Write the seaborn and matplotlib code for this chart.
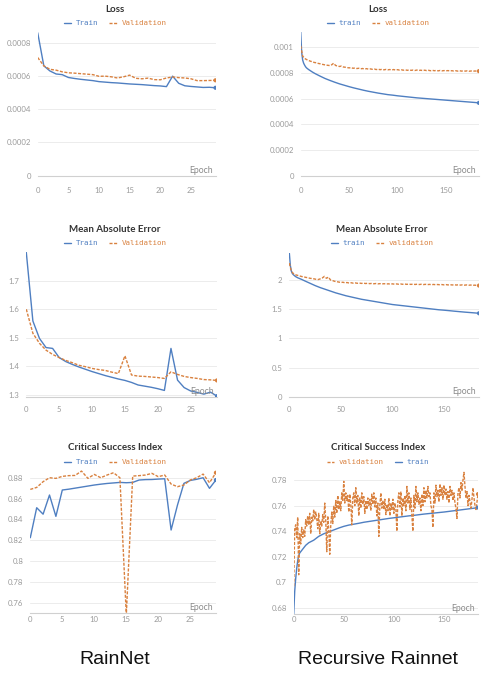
import matplotlib
matplotlib.use('Agg')
import matplotlib.pyplot as plt
import matplotlib.transforms as mtransforms
import seaborn as sns
import numpy as np
import pandas as pd

# ---------------- data ----------------
rn_epochs = list(range(30))
rn_loss_train = [0.000860, 0.000661, 0.000630, 0.000612, 0.000608, 0.000591, 0.000585, 0.000580,
                 0.000576, 0.000572, 0.000566, 0.000563, 0.000560, 0.000558, 0.000555, 0.000552,
                 0.000550, 0.000548, 0.000545, 0.000542, 0.000540, 0.000536, 0.000599, 0.000556,
                 0.000541, 0.000537, 0.000534, 0.000531, 0.000532, 0.000529]
rn_loss_val = [0.000711, 0.000661, 0.000640, 0.000635, 0.000625, 0.000619, 0.000617, 0.000614,
               0.000611, 0.000608, 0.000598, 0.000599, 0.000595, 0.000588, 0.000595, 0.000605,
               0.000586, 0.000583, 0.000587, 0.000578, 0.000577, 0.000588, 0.000594, 0.000590,
               0.000588, 0.000583, 0.000572, 0.000572, 0.000573, 0.000574]
rn_mae_train = [1.799, 1.559, 1.498, 1.466, 1.463, 1.431, 1.417, 1.407, 1.398, 1.390,
                1.382, 1.375, 1.368, 1.362, 1.356, 1.351, 1.344, 1.335, 1.331, 1.327,
                1.322, 1.316, 1.463, 1.352, 1.326, 1.314, 1.309, 1.303, 1.310, 1.296]
rn_mae_val = [1.600, 1.516, 1.481, 1.457, 1.442, 1.431, 1.421, 1.413, 1.404, 1.399,
              1.393, 1.389, 1.386, 1.380, 1.375, 1.437, 1.370, 1.366, 1.365, 1.363,
              1.361, 1.358, 1.381, 1.372, 1.365, 1.361, 1.358, 1.354, 1.353, 1.351]
rn_csi_train = [0.8224, 0.8512, 0.8450, 0.8634, 0.8429, 0.8682, 0.8690, 0.8700, 0.8710, 0.8720,
                0.8730, 0.8738, 0.8745, 0.8750, 0.8755, 0.8752, 0.8755, 0.8778, 0.8782, 0.8783,
                0.8787, 0.8790, 0.8298, 0.8538, 0.8746, 0.8774, 0.8785, 0.8800, 0.8698, 0.8778]
rn_csi_val = [0.8688, 0.8707, 0.8762, 0.8800, 0.8794, 0.8813, 0.8820, 0.8822, 0.8864, 0.8794,
              0.8832, 0.8800, 0.8826, 0.8848, 0.8800, 0.7480, 0.8816, 0.8820, 0.8826, 0.8842,
              0.8810, 0.8826, 0.8739, 0.8714, 0.8730, 0.8778, 0.8800, 0.8835, 0.8752, 0.8848]

rec_train_epochs = [0, 1, 2, 3, 4, 5, 6, 8, 10, 12, 15, 20, 25, 30, 35, 40, 45, 50, 55, 60,
                    65, 70, 75, 80, 85, 90, 95, 100, 105, 110, 115, 120, 125, 130, 135, 140,
                    145, 150, 155, 160, 165, 170, 175, 180, 184]
rec_loss_train = [0.001120, 0.000960, 0.000900, 0.000875, 0.000860, 0.000847, 0.000838, 0.000826,
                  0.000816, 0.000806, 0.000793, 0.000774, 0.000756, 0.000741, 0.000727, 0.000714,
                  0.000703, 0.000692, 0.000682, 0.000673, 0.000664, 0.000656, 0.000649, 0.000642,
                  0.000636, 0.000630, 0.000626, 0.000621, 0.000617, 0.000613, 0.000609, 0.000605,
                  0.000602, 0.000599, 0.000596, 0.000593, 0.000590, 0.000587, 0.000584, 0.000581,
                  0.000578, 0.000575, 0.000572, 0.000569, 0.000566]
rec_mae_train = [2.470, 2.250, 2.150, 2.110, 2.090, 2.075, 2.060, 2.040, 2.025, 2.010,
                 1.985, 1.945, 1.905, 1.870, 1.840, 1.810, 1.780, 1.755, 1.730, 1.710,
                 1.690, 1.670, 1.655, 1.640, 1.625, 1.610, 1.595, 1.580, 1.570, 1.560,
                 1.550, 1.540, 1.530, 1.520, 1.510, 1.500, 1.490, 1.483, 1.475, 1.466,
                 1.458, 1.450, 1.443, 1.436, 1.430]
rec_csi_train = [0.6750, 0.6930, 0.7030, 0.7110, 0.7170, 0.7210, 0.7230, 0.7250, 0.7270, 0.7290,
                 0.7310, 0.7330, 0.7360, 0.7380, 0.7395, 0.7410, 0.7425, 0.7438, 0.7448, 0.7455,
                 0.7462, 0.7470, 0.7476, 0.7482, 0.7488, 0.7494, 0.7500, 0.7505, 0.7510, 0.7515,
                 0.7520, 0.7524, 0.7529, 0.7534, 0.7538, 0.7542, 0.7546, 0.7550, 0.7555, 0.7560,
                 0.7565, 0.7570, 0.7575, 0.7580, 0.7585]

rec_val_epochs = list(range(0, 185, 2))
rec_loss_val = [0.001010, 0.000930, 0.000912, 0.000903, 0.000896, 0.000890, 0.000886, 0.000880,
                0.000878, 0.000873, 0.000870, 0.000866, 0.000863, 0.000860, 0.000858, 0.000856,
                0.000862, 0.000874, 0.000857, 0.000852, 0.000849, 0.000852, 0.000845, 0.000843,
                0.000840, 0.000838, 0.000840, 0.000835, 0.000837, 0.000833, 0.000835, 0.000831,
                0.000833, 0.000829, 0.000832, 0.000828, 0.000830, 0.000827, 0.000829, 0.000825,
                0.000828, 0.000824, 0.000827, 0.000823, 0.000826, 0.000823, 0.000825, 0.000822,
                0.000825, 0.000821, 0.000824, 0.000821, 0.000823, 0.000820, 0.000823, 0.000819,
                0.000822, 0.000819, 0.000821, 0.000818, 0.000821, 0.000818, 0.000820, 0.000817,
                0.000820, 0.000817, 0.000819, 0.000816, 0.000819, 0.000816, 0.000818, 0.000815,
                0.000818, 0.000815, 0.000817, 0.000815, 0.000817, 0.000814, 0.000816, 0.000814,
                0.000816, 0.000813, 0.000816, 0.000813, 0.000815, 0.000813, 0.000815, 0.000812,
                0.000814, 0.000812, 0.000814, 0.000812, 0.000813]
rec_mae_val = [2.290, 2.150, 2.110, 2.090, 2.080, 2.070, 2.060, 2.055,
               2.045, 2.040, 2.030, 2.025, 2.020, 2.012, 2.008, 2.020,
               2.035, 2.062, 2.030, 2.050, 2.000, 1.990, 1.978, 1.972,
               1.965, 1.958, 1.962, 1.952, 1.957, 1.948, 1.953, 1.946,
               1.950, 1.944, 1.948, 1.942, 1.946, 1.940, 1.944, 1.938,
               1.942, 1.936, 1.940, 1.934, 1.938, 1.933, 1.937, 1.931,
               1.935, 1.930, 1.934, 1.929, 1.933, 1.928, 1.932, 1.927,
               1.931, 1.926, 1.930, 1.925, 1.929, 1.924, 1.928, 1.923,
               1.927, 1.922, 1.926, 1.921, 1.925, 1.920, 1.924, 1.919,
               1.923, 1.918, 1.922, 1.917, 1.921, 1.916, 1.920, 1.915,
               1.919, 1.914, 1.918, 1.913, 1.917, 1.912, 1.916, 1.911,
               1.914, 1.909, 1.912, 1.907, 1.905]

rec_csi_epochs = list(range(185))
rec_csi_val = [0.697, 0.742, 0.745, 0.735, 0.751, 0.706, 0.738, 0.730, 0.743, 0.735,
               0.741, 0.736, 0.749, 0.744, 0.752, 0.745, 0.754, 0.738, 0.751, 0.748,
               0.757, 0.749, 0.755, 0.750, 0.742, 0.754, 0.738, 0.748, 0.744, 0.753,
               0.747, 0.762, 0.748, 0.724, 0.752, 0.741, 0.722, 0.745, 0.755, 0.746,
               0.760, 0.751, 0.764, 0.754, 0.768, 0.757, 0.763, 0.756, 0.770, 0.764,
               0.779, 0.762, 0.770, 0.764, 0.768, 0.755, 0.769, 0.761, 0.745, 0.766,
               0.770, 0.760, 0.774, 0.762, 0.768, 0.752, 0.766, 0.758, 0.770, 0.761,
               0.767, 0.754, 0.764, 0.757, 0.766, 0.760, 0.765, 0.756, 0.769, 0.761,
               0.770, 0.759, 0.766, 0.752, 0.762, 0.736, 0.760, 0.770, 0.758, 0.764,
               0.757, 0.765, 0.753, 0.761, 0.756, 0.766, 0.752, 0.762, 0.757, 0.765,
               0.754, 0.762, 0.758, 0.740, 0.764, 0.770, 0.759, 0.771, 0.752, 0.766,
               0.760, 0.768, 0.756, 0.775, 0.762, 0.770, 0.757, 0.766, 0.752, 0.740,
               0.768, 0.758, 0.775, 0.763, 0.770, 0.761, 0.766, 0.756, 0.769, 0.760,
               0.774, 0.763, 0.772, 0.766, 0.775, 0.767, 0.770, 0.760, 0.757, 0.743,
               0.770, 0.762, 0.776, 0.767, 0.772, 0.763, 0.777, 0.768, 0.774, 0.765,
               0.776, 0.768, 0.773, 0.765, 0.771, 0.762, 0.775, 0.768, 0.772, 0.764,
               0.770, 0.762, 0.758, 0.750, 0.770, 0.774, 0.766, 0.778, 0.772, 0.780,
               0.786, 0.775, 0.766, 0.771, 0.760, 0.768, 0.763, 0.758, 0.765, 0.774,
               0.766, 0.760, 0.757, 0.763, 0.769]

titles = ["Loss", "Loss", "Mean Absolute Error", "Mean Absolute Error",
          "Critical Success Index", "Critical Success Index"]
model_names = ["RainNet", "Recursive Rainnet"]

# ---------------- style ----------------
W, H = 490, 673
sns.set_theme(style='white')
plt.rcParams['font.family'] = ['Lato', 'DejaVu Sans']
BLUE = '#4f7fc1'
ORANGE = '#d9813f'
GRID = '#ececec'
TICK = '#9a9a9a'

fig = plt.figure(figsize=(W / 100, H / 100), dpi=100)


def place(x0, x1, ytop, ybot):
    return fig.add_axes([x0 / W, 1 - ybot / H, (x1 - x0) / W, (ybot - ytop) / H])


def series(ax, x, y, color, dashed, label):
    df = pd.DataFrame({'epoch': x, 'value': y})
    ls = (0, (2.2, 1.1)) if dashed else '-'
    sns.lineplot(data=df, x='epoch', y='value', ax=ax, color=color, linewidth=1.0,
                 linestyle=ls, label=label, zorder=3 if dashed else 2)
    sns.scatterplot(data=df.iloc[[-1]], x='epoch', y='value', ax=ax, color=color,
                    s=9, edgecolor='none', zorder=4, legend=False)


def style_axes(ax, xlim, ylim, xticks, yticks, xpad):
    ax.set_xlim(*xlim)
    ax.set_ylim(*ylim)
    ax.set_xticks(xticks)
    ax.set_yticks(yticks)
    ax.set_yticklabels(['%g' % v for v in yticks])
    ax.set_xlabel('')
    ax.set_ylabel('')
    for s in ['top', 'right', 'left']:
        ax.spines[s].set_visible(False)
    ax.spines['bottom'].set_color('#d0d0d0')
    ax.spines['bottom'].set_linewidth(0.8)
    ax.grid(axis='y', color=GRID, linewidth=0.7)
    ax.grid(axis='x', visible=False)
    ax.set_axisbelow(True)
    ax.tick_params(axis='x', direction='inout', length=3, width=0.6, color='#d0d0d0',
                   labelsize=5.6, labelcolor=TICK, pad=xpad)
    ax.tick_params(axis='y', length=0, labelsize=5.6, labelcolor=TICK, pad=5)
    off = mtransforms.offset_copy(ax.transAxes, fig=fig, x=-3, y=3, units='dots')
    ax.text(1.0, 0.0, 'Epoch', transform=off, ha='right', va='baseline',
            fontsize=6.2, color='#8a8a8a')


def legend(ax, cx, cy, order):
    handles, labels = ax.get_legend_handles_labels()
    idx = [labels.index(o) for o in order]
    ax.legend([handles[i] for i in idx], [labels[i] for i in idx],
              loc='center', bbox_to_anchor=(cx / W, 1 - cy / H), bbox_transform=fig.transFigure,
              ncol=2, frameon=False, prop={'family': 'DejaVu Sans Mono', 'size': 5.4},
              handlelength=1.0, handletextpad=0.6, columnspacing=1.5, labelcolor='linecolor')


def title(cx, cy, text):
    fig.text(cx / W, 1 - cy / H, text, ha='center', va='center', fontsize=7.0,
             fontweight='bold', color='#333333')


# Panel 1: RainNet loss
ax1 = place(37.7, 215.5, 31.1, 175.7)
series(ax1, rn_epochs, rn_loss_train, BLUE, False, 'Train')
series(ax1, rn_epochs, rn_loss_val, ORANGE, True, 'Validation')
style_axes(ax1, (0, 29), (0, 0.00087), [0, 5, 10, 15, 20, 25],
           [0, 0.0002, 0.0004, 0.0006, 0.0008], 6.5)
legend(ax1, 115, 23, ['Train', 'Validation'])
title(115, 9, titles[0])

# Panel 2: Recursive loss
ax2 = place(300.7, 478.9, 31.6, 175.7)
series(ax2, rec_train_epochs, rec_loss_train, BLUE, False, 'train')
series(ax2, rec_val_epochs, rec_loss_val, ORANGE, True, 'validation')
style_axes(ax2, (0, 184), (0, 0.00112), [0, 50, 100, 150],
           [0, 0.0002, 0.0004, 0.0006, 0.0008, 0.001], 6.4)
legend(ax2, 378, 23, ['train', 'validation'])
title(378, 9, titles[1])

# Panel 3: RainNet MAE
ax3 = place(26.3, 217.0, 252.1, 397.0)
series(ax3, rn_epochs, rn_mae_train, BLUE, False, 'Train')
series(ax3, rn_epochs, rn_mae_val, ORANGE, True, 'Validation')
style_axes(ax3, (0, 29), (1.293, 1.80), [0, 5, 10, 15, 20, 25],
           [1.3, 1.4, 1.5, 1.6, 1.7], 5.0)
legend(ax3, 115, 243, ['Train', 'Validation'])
title(115, 229, titles[2])

# Panel 4: Recursive MAE
ax4 = place(289.3, 479.0, 252.6, 396.7)
series(ax4, rec_train_epochs, rec_mae_train, BLUE, False, 'train')
series(ax4, rec_val_epochs, rec_mae_val, ORANGE, True, 'validation')
style_axes(ax4, (0, 184), (0, 2.47), [0, 50, 100, 150],
           [0, 0.5, 1, 1.5, 2], 5.3)
legend(ax4, 382, 243, ['train', 'validation'])
title(382, 229, titles[3])

# Panel 5: RainNet CSI
ax5 = place(30.3, 215.9, 469.4, 613.1)
series(ax5, rn_epochs, rn_csi_train, BLUE, False, 'Train')
series(ax5, rn_epochs, rn_csi_val, ORANGE, True, 'Validation')
style_axes(ax5, (0, 29), (0.75, 0.888), [0, 5, 10, 15, 20, 25],
           [0.76, 0.78, 0.80, 0.82, 0.84, 0.86, 0.88], 0.3)
legend(ax5, 115, 462, ['Train', 'Validation'])
title(115, 448, titles[4])

# Panel 6: Recursive CSI
ax6 = place(293.7, 478.0, 469.8, 614.4)
series(ax6, rec_train_epochs, rec_csi_train, BLUE, False, 'train')
series(ax6, rec_csi_epochs, rec_csi_val, ORANGE, True, 'validation')
style_axes(ax6, (0, 184), (0.675, 0.788), [0, 50, 100, 150],
           [0.68, 0.70, 0.72, 0.74, 0.76, 0.78], 0.0)
legend(ax6, 378, 462, ['validation', 'train'])
title(378, 448, titles[5])

fig.text(115 / W, 1 - 659 / H, model_names[0], ha='center', va='center', fontsize=14,
         family='Liberation Sans', color='#111111')
fig.text(378 / W, 1 - 659 / H, model_names[1], ha='center', va='center', fontsize=14,
         family='Liberation Sans', color='#111111')

fig.savefig('out.png', dpi=100)
